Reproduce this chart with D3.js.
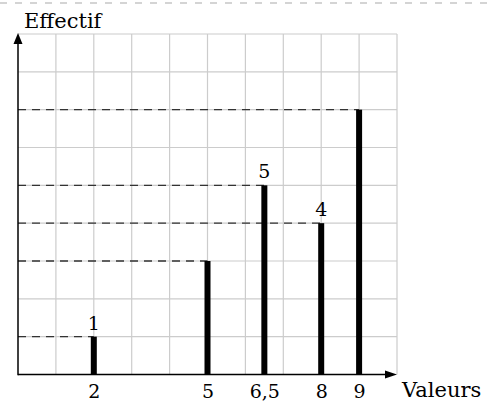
<!DOCTYPE html>
<html><head><meta charset="utf-8">
<script src="https://cdn.jsdelivr.net/npm/d3@7"></script>
<style>
html,body{margin:0;padding:0;background:#fff;}
svg{display:block;font-family:"DejaVu Serif",serif;}
</style></head>
<body>
<svg id="chart" width="487" height="403"></svg>
<script>
const values = [2, 5, 6.5, 8, 9];
const counts = [1, 3, 5, 4, 7];
const barLabels = ["1", "", "5", "4", ""];
const tickValues = [2, 5, 6.5, 8, 9];
const tickLabels = ["2", "5", "6,5", "8", "9"];
const xTitle = "Valeurs";
const yTitle = "Effectif";

const svg = d3.select("#chart");
const x = d3.scaleLinear().domain([0, 10]).range([18, 397]);
const y = d3.scaleLinear().domain([0, 9]).range([374.5, 34]);

// top dashed border
svg.append("line").attr("x1", 0).attr("x2", 487).attr("y1", 3).attr("y2", 3)
  .attr("stroke", "#d4d4d4").attr("stroke-width", 2).attr("stroke-dasharray", "7,8");

// grid
const grid = svg.append("g");
grid.selectAll("line.v").data(d3.range(1, 11)).join("line")
  .attr("x1", d => x(d)).attr("x2", d => x(d)).attr("y1", y(0)).attr("y2", y(9))
  .attr("stroke", "#cccccc").attr("stroke-width", 1.2);
grid.selectAll("line.h").data(d3.range(1, 10)).join("line")
  .attr("x1", x(0)).attr("x2", x(10)).attr("y1", d => y(d)).attr("y2", d => y(d))
  .attr("stroke", "#cccccc").attr("stroke-width", 1.2);

const data = values.map((v, i) => ({v, c: counts[i], label: barLabels[i]}));

// dashed guides
svg.append("g").selectAll("line").data(data).join("line")
  .attr("x1", x(0)).attr("x2", d => x(d.v)).attr("y1", d => y(d.c)).attr("y2", d => y(d.c))
  .attr("stroke", "#333").attr("stroke-width", 1.4).attr("stroke-dasharray", "8,6");

// bars
svg.append("g").selectAll("rect").data(data).join("rect")
  .attr("x", d => x(d.v) - 3).attr("width", 6)
  .attr("y", d => y(d.c)).attr("height", d => y(0) - y(d.c))
  .attr("fill", "#000");

// bar labels
svg.append("g").selectAll("text").data(data.filter(d => d.label)).join("text")
  .attr("x", d => x(d.v)).attr("y", d => y(d.c) - 7)
  .attr("text-anchor", "middle").attr("font-size", 19).attr("fill", "#000")
  .text(d => d.label);

// axes
const xAxis = d3.axisBottom(x).tickValues(tickValues).tickSize(0).tickPadding(0)
  .tickFormat((d, i) => tickLabels[i]);
const gx = svg.append("g").attr("transform", `translate(0,${y(0)})`).call(xAxis);
gx.select(".domain").remove();
gx.selectAll("text").attr("font-size", 19).attr("font-family", "DejaVu Serif")
  .attr("dy", null).attr("y", 23).attr("fill", "#000");

svg.append("line").attr("x1", x(0)).attr("x2", 388).attr("y1", y(0)).attr("y2", y(0))
  .attr("stroke", "#000").attr("stroke-width", 1.5);
svg.append("path").attr("d", `M397,${y(0)} L385,${y(0) - 4} L385,${y(0) + 4} Z`).attr("fill", "#000");

svg.append("line").attr("x1", x(0)).attr("x2", x(0)).attr("y1", y(0) + 0.75).attr("y2", 42)
  .attr("stroke", "#000").attr("stroke-width", 1.5);
svg.append("path").attr("d", `M${x(0)},33 L${x(0) - 4.5},44 L${x(0) + 4.5},44 Z`).attr("fill", "#000");

svg.append("text").attr("x", 402).attr("y", 397).attr("font-size", 21).attr("fill", "#000").text(xTitle);
svg.append("text").attr("x", 24).attr("y", 28).attr("font-size", 21).attr("fill", "#000").text(yTitle);
</script>
</body></html>
